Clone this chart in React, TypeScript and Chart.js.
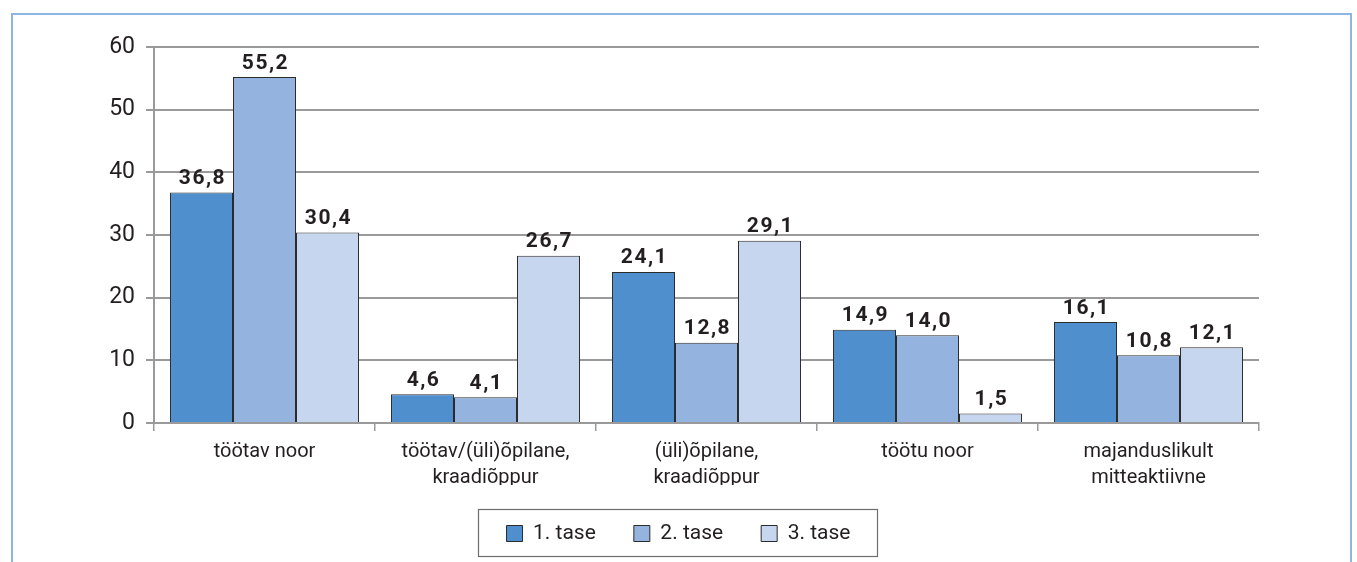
import React, { useEffect, useRef } from "react";
import { Chart, registerables } from "chart.js";

Chart.register(...registerables);

const categories: (string | string[])[] = [
  "töötav noor",
  ["töötav/(üli)õpilane,", "kraadiõppur"],
  ["(üli)õpilane,", "kraadiõppur"],
  "töötu noor",
  ["majanduslikult", "mitteaktiivne"],
];
const seriesNames = ["1. tase", "2. tase", "3. tase"];
const level1 = [36.8, 4.6, 24.1, 14.9, 16.1];
const level2 = [55.2, 4.1, 12.8, 14.0, 10.8];
const level3 = [30.4, 26.7, 29.1, 1.5, 12.1];
const colors = ["#4F8FCD", "#95B3DF", "#C6D6EE"];

const FONT = "Roboto, 'Noto Sans', sans-serif";

const valueLabels = {
  id: "valueLabels",
  afterDatasetsDraw(chart: any) {
    const ctx = chart.ctx;
    ctx.save();
    ctx.font = `bold 21px ${FONT}`;
    ctx.fillStyle = "#231F20";
    ctx.textAlign = "center";
    ctx.textBaseline = "alphabetic";
    try { (ctx as any).letterSpacing = "1.5px"; } catch (e) {}
    chart.data.datasets.forEach((ds: any, i: number) => {
      const meta = chart.getDatasetMeta(i);
      meta.data.forEach((bar: any, j: number) => {
        const v = ds.data[j] as number;
        ctx.fillText(v.toFixed(1).replace(".", ","), bar.x + 1, bar.y - 8.5);
      });
    });
    ctx.restore();
  },
};

const legendBorder = {
  id: "legendBorder",
  afterDraw(chart: any) {
    const lg = chart.legend;
    if (!lg || !lg.legendHitBoxes || !lg.legendHitBoxes.length) return;
    const boxes = lg.legendHitBoxes;
    let l = Infinity, r = -Infinity, t = Infinity, b = -Infinity;
    boxes.forEach((h: any) => {
      l = Math.min(l, h.left);
      r = Math.max(r, h.left + h.width);
      t = Math.min(t, h.top);
      b = Math.max(b, h.top + h.height);
    });
    const ctx = chart.ctx;
    ctx.save();
    ctx.strokeStyle = "#6d6d6d";
    ctx.lineWidth = 1.2;
    ctx.strokeRect(Math.round(l - 29) + 0.5, Math.round(t - 14) + 0.5, Math.round(r - l + 55), Math.round(b - t + 26));
    ctx.restore();
  },
};

export default function App() {
  const ref = useRef<HTMLCanvasElement | null>(null);
  useEffect(() => {
    if (!ref.current) return;
    const chart = new Chart(ref.current, {
      type: "bar",
      data: {
        labels: categories,
        datasets: [level1, level2, level3].map((d, i) => ({
          label: seriesNames[i],
          data: d,
          backgroundColor: colors[i],
          borderColor: "#2b2b2b",
          borderWidth: 1,
          borderSkipped: "bottom" as const,
          categoryPercentage: 0.855,
          barPercentage: 1,
        })),
      },
      options: {
        animation: false,
        responsive: false,
        maintainAspectRatio: false,
        layout: { padding: { top: 47, bottom: 8, left: 0, right: 0 } },
        plugins: {
          tooltip: { enabled: false },
          legend: {
            position: "bottom",
            labels: {
              boxWidth: 16,
              boxHeight: 16,
              padding: 38,
              color: "#231F20",
              font: { family: FONT, size: 21 },
            },
          },
        },
        scales: {
          x: {
            grid: {
              display: true,
              drawOnChartArea: false,
              drawTicks: true,
              tickLength: 8,
              color: "#9a9a9a",
              lineWidth: 1.5,
              offset: true,
            },
            border: { display: true, color: "#9a9a9a", width: 2 },
            ticks: {
              color: "#231F20",
              font: { family: FONT, size: 20, lineHeight: 1.3 },
              padding: 8,
              maxRotation: 0,
              autoSkip: false,
            },
            afterFit: (s: any) => { s.height = 62; },
          },
          y: {
            min: 0,
            max: 60,
            ticks: {
              stepSize: 10,
              color: "#231F20",
              font: { family: FONT, size: 23 },
              padding: 11,
            },
            grid: { color: "#9a9a9a", lineWidth: 2, tickLength: 8 },
            border: { display: true, color: "#9a9a9a", width: 2 },
            afterFit: (s: any) => { s.width = 154; },
          },
          yRight: {
            position: "right",
            display: true,
            grid: { display: false },
            ticks: { display: false },
            border: { display: false },
            afterFit: (s: any) => { s.width = 98; },
          },
        },
      },
      plugins: [valueLabels, legendBorder],
    });
    return () => chart.destroy();
  }, []);

  return (
    <div style={{ position: "fixed", left: 0, top: 0, width: 1357, height: 562, background: "#fff", overflow: "hidden" }}>
      <div
        style={{
          position: "absolute",
          left: 11,
          top: 13,
          width: 1337,
          height: 600,
          borderLeft: "2px solid #8DB4E2",
          borderTop: "2px solid #8DB4E2",
          borderRight: "2px solid #8DB4E2",
        }}
      />
      <canvas ref={ref} width={1357} height={562} style={{ position: "absolute", left: 0, top: 0, width: 1357, height: 562 }} />
    </div>
  );
}
